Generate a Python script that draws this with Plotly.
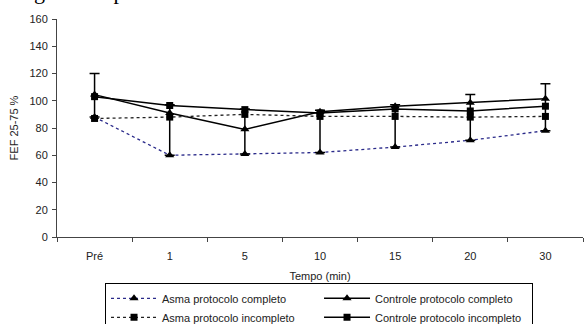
import plotly.graph_objects as go

categories = ["Pré", "1", "5", "10", "15", "20", "30"]
asma_completo = [88, 60, 61, 62, 66, 71, 78]
asma_incompleto = [87, 88, 90, 88.5, 88.5, 88, 88.5]
controle_completo = [104.5, 91, 79, 92, 96, 98.5, 101.5]
controle_incompleto = [103, 96.5, 93.5, 91, 94, 92.5, 96]
erro_topo = [120, 97, 94, 93, 97, 104.5, 112.5]
erro_base = asma_completo

font_sans = "Liberation Sans, Arial, sans-serif"

fig = go.Figure()
fig.add_trace(go.Scatter(
    x=categories, y=asma_completo, name="Asma protocolo completo",
    mode="lines+markers",
    line=dict(color="#2a2a8a", width=1.3, dash="dot"),
    marker=dict(symbol="triangle-up", size=8, color="black"),
))
fig.add_trace(go.Scatter(
    x=categories, y=controle_completo, name="Controle protocolo completo",
    mode="lines+markers",
    line=dict(color="black", width=1.5),
    marker=dict(symbol="triangle-up", size=8, color="black"),
    error_y=dict(type="data", symmetric=False,
                 array=[t - v for t, v in zip(erro_topo, controle_completo)],
                 arrayminus=[v - b for v, b in zip(controle_completo, erro_base)],
                 color="black", thickness=1.5, width=5),
))
fig.add_trace(go.Scatter(
    x=categories, y=asma_incompleto, name="Asma protocolo incompleto",
    mode="lines+markers",
    line=dict(color="#222222", width=1.3, dash="dot"),
    marker=dict(symbol="square", size=7, color="black"),
))
fig.add_trace(go.Scatter(
    x=categories, y=controle_incompleto, name="Controle protocolo incompleto",
    mode="lines+markers",
    line=dict(color="black", width=1.5),
    marker=dict(symbol="square", size=7, color="black"),
))

fig.update_layout(
    width=584, height=324,
    margin=dict(l=57, r=1, t=19, b=87, autoexpand=False),
    paper_bgcolor="white", plot_bgcolor="white",
    font=dict(family=font_sans, size=11, color="#222222"),
    showlegend=True,
    legend=dict(
        orientation="h", x=0.0913, xanchor="left", y=-0.21, yanchor="top",
        bordercolor="black", borderwidth=1,
        entrywidth=152, entrywidthmode="pixels",
        font=dict(family=font_sans, size=11, color="#222222"),
        traceorder="normal", itemwidth=46, tracegroupgap=0,
    ),
    xaxis=dict(
        type="category", range=[-0.5, 6.5],
        showline=True, linecolor="#444444", linewidth=1,
        ticks="outside", ticklen=4, tickcolor="#444444", tickson="boundaries",
        showgrid=False, zeroline=False, ticklabelstandoff=9,
        title=dict(text="Tempo (min)", font=dict(size=11), standoff=11),
        tickfont=dict(size=11),
    ),
    yaxis=dict(
        range=[0, 160], dtick=20,
        showline=True, linecolor="#444444", linewidth=1,
        ticks="outside", ticklen=4, tickcolor="#444444",
        showgrid=False, zeroline=False, ticklabelstandoff=2,
        title=dict(text="FEF 25-75 %", font=dict(size=11), standoff=8),
        tickfont=dict(size=11),
    ),
    annotations=[dict(
        text="iguais ou próximos dos basais.",
        xref="paper", yref="paper", x=(300 - 57) / 526, y=1.058,
        xanchor="right", yanchor="bottom", showarrow=False,
        font=dict(family="Liberation Serif, Times New Roman, serif", size=22, color="black"),
    )],
)

fig.write_html(
    "out.html",
    config={"displayModeBar": False},
    post_script="document.body.style.margin='0';document.body.style.overflow='hidden';",
)
